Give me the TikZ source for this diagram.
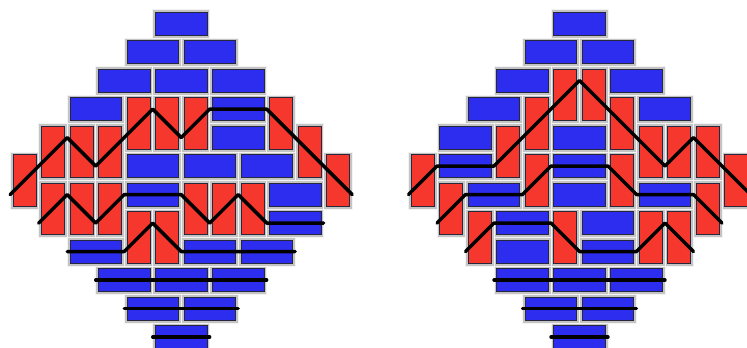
\documentclass[tikz,border=0pt]{standalone}
\definecolor{dblue}{RGB}{45,45,240}
\definecolor{dred}{RGB}{245,55,45}
\definecolor{fgray}{RGB}{196,196,196}
\definecolor{dedge}{RGB}{40,40,60}
\tikzset{
  frame/.style={fill=fgray, draw=white!80!fgray, line width=0.5pt},
  hdom/.style={fill=dblue, draw=dedge, line width=0.7pt},
  vdom/.style={fill=dred, draw=dedge, line width=0.7pt},
  lpath/.style={draw=black, line width=3.4pt, line join=round, line cap=round},
  board/.style={x=28.5pt, y=-28.5pt}
}
\newcommand\Hdom[2]{\path[frame] (#1,#2) rectangle (#1+2,#2+1);
  \path[hdom] (#1+0.095,#2+0.095) rectangle (#1+1.905,#2+0.905);}
\newcommand\Vdom[2]{\path[frame] (#1,#2) rectangle (#1+1,#2+2);
  \path[vdom] (#1+0.095,#2+0.095) rectangle (#1+0.905,#2+1.905);}
\begin{document}
\begin{tikzpicture}
\useasboundingbox (0pt,0pt) rectangle (747pt,-348pt);
\clip (0pt,0pt) rectangle (747pt,-348pt);
% left diamond
\begin{scope}[shift={(10.2pt,-9.3pt)}, board]
  \foreach \c/\r in {5/0,4/1,6/1,3/2,5/2,7/2,2/3,7/3,7/4,4/5,6/5,8/5,4/6,9/6,9/7,2/8,6/8,8/8,3/9,5/9,7/9,4/10,6/10,5/11}
    {\Hdom{\c}{\r}}
  \foreach \c/\r in {4/3,5/3,6/3,9/3,1/4,2/4,3/4,10/4,0/5,11/5,1/6,2/6,3/6,6/6,7/6,8/6,4/7,5/7}
    {\Vdom{\c}{\r}}
  \draw[lpath] (0,6.5) -- (2,4.5) -- (3,5.5) -- (5,3.5) -- (6,4.5) -- (7,3.5) -- (9,3.5) -- (12,6.5);
  \draw[lpath] (1,7.5) -- (2,6.5) -- (3,7.5) -- (4,6.5) -- (6,6.5) -- (7,7.5) -- (8,6.5) -- (9,7.5) -- (11,7.5);
  \draw[lpath] (2,8.5) -- (4,8.5) -- (5,7.5) -- (6,8.5) -- (10,8.5);
  \draw[lpath] (3,9.5) -- (9,9.5);
  \draw[lpath] (4,10.5) -- (8,10.5);
  \draw[lpath] (5,11.5) -- (7,11.5);
\end{scope}
% right diamond
\begin{scope}[shift={(408.5pt,-9.3pt)}, board]
  \foreach \c/\r in {5/0,4/1,6/1,3/2,7/2,2/3,8/3,1/4,5/4,1/5,5/5,2/6,5/6,8/6,3/7,6/7,3/8,6/8,3/9,5/9,7/9,4/10,6/10,5/11}
    {\Hdom{\c}{\r}}
  \foreach \c/\r in {5/2,6/2,4/3,7/3,3/4,8/4,9/4,10/4,0/5,4/5,7/5,11/5,1/6,10/6,2/7,5/7,8/7,9/7}
    {\Vdom{\c}{\r}}
  \draw[lpath] (0,6.5) -- (1,5.5) -- (3,5.5) -- (6,2.5) -- (9,5.5) -- (10,4.5) -- (12,6.5);
  \draw[lpath] (1,7.5) -- (2,6.5) -- (4,6.5) -- (5,5.5) -- (7,5.5) -- (8,6.5) -- (10,6.5) -- (11,7.5);
  \draw[lpath] (2,8.5) -- (3,7.5) -- (5,7.5) -- (6,8.5) -- (8,8.5) -- (9,7.5) -- (10,8.5);
  \draw[lpath] (3,9.5) -- (9,9.5);
  \draw[lpath] (4,10.5) -- (8,10.5);
  \draw[lpath] (5,11.5) -- (7,11.5);
\end{scope}
\end{tikzpicture}
\end{document}
